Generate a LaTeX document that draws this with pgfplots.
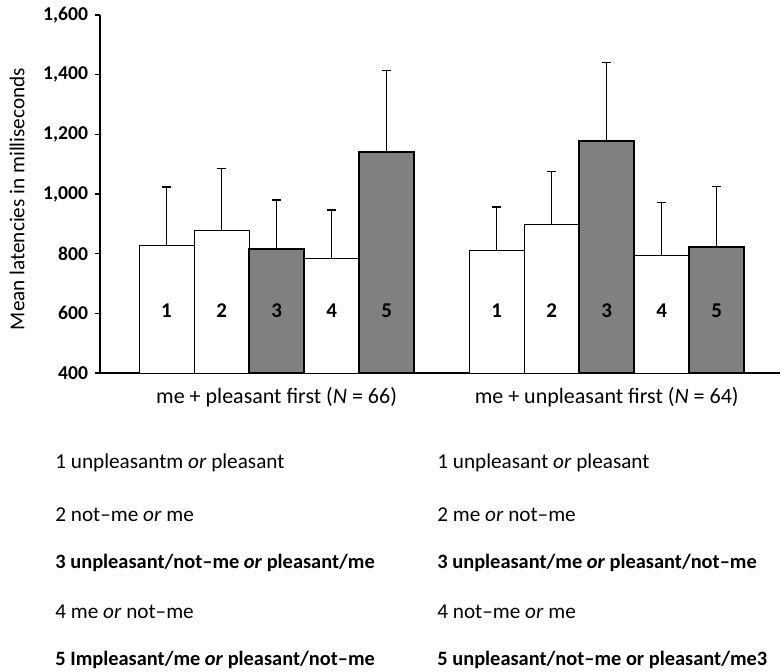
\documentclass[border=0pt]{standalone}
\usepackage{pgfplots}
\pgfplotsset{compat=1.18}
\usepackage{fontspec}
\setmainfont{Carlito}
\begin{document}
\begin{tikzpicture}
\path[use as bounding box] (0,0) rectangle (391pt,335.5pt);
\begin{axis}[
  at={(50pt,149pt)}, anchor=south west,
  scale only axis, width=340pt, height=179pt,
  xmin=-0.21, xmax=12.15, ymin=400, ymax=1600,
  axis x line*=bottom, axis y line*=left,
  axis line style={line width=0.7pt},
  ytick={400,600,...,1600},
  tick align=outside, major tick length=2.5pt,
  y tick style={line width=0.7pt, black},
  yticklabel style={font=\bfseries\fontsize{9.8}{11}\selectfont,
    /pgf/number format/.cd, 1000 sep={,}, assume math mode=true},
  xtick={3,9},
  xticklabels={me + pleasant first (\textit{N} = 66), me + unpleasant first (\textit{N} = 64)},
  x tick style={draw=none},
  xticklabel style={font=\fontsize{11}{13}\selectfont, yshift=-1pt},
  ylabel={Mean latencies in milliseconds},
  every axis y label/.style={at={(rel axis cs:0,0.486)}, xshift=-41.5pt, rotate=90, anchor=center,
    font=\fontsize{10.6}{12}\selectfont},
  error bars/error bar style={line width=0.7pt, black},
  error bars/error mark options={rotate=90, mark size=2.3pt, line width=0.7pt, black},
  clip=false,
]
\addplot+[ybar, bar width=1, bar shift=0pt, fill=white, draw=black, line width=0.5pt, mark=none,
  error bars/.cd, y dir=plus, y explicit]
  table[x=x, y=y, y error=e] {
x y e
1 827 196
2 876 210
4 785 161
7 811 145
8 899 177
10 793 178
};
\addplot+[ybar, bar width=1, bar shift=0pt, fill=black!50, draw=black, line width=1pt, mark=none,
  error bars/.cd, y dir=plus, y explicit]
  table[x=x, y=y, y error=e] {
x y e
3 817 163
5 1141 273
9 1179 261
11 824 202
};
\foreach \i/\lab in {1/1,2/2,4/4,7/1,8/2,10/4,3/3,5/5,9/3,11/5} {
  \edef\tmp{\noexpand\node[font=\noexpand\bfseries\noexpand\fontsize{10.5}{12}\noexpand\selectfont] at (axis cs:\i,610) {\lab};}\tmp
}
\end{axis}
\begin{scope}[every node/.style={anchor=west, inner sep=0pt, font=\fontsize{10.6}{12}\selectfont}]
\node at (27.5pt,104pt) {1 unpleasantm \textit{or} pleasant};
\node at (27.5pt,78pt) {2 not–me \textit{or} me};
\node at (27.5pt,54pt) {\fontsize{10.2}{12}\selectfont\textbf{3 unpleasant/not–me \textit{or} pleasant/me}};
\node at (27.5pt,29.5pt) {4 me \textit{or} not–me};
\node at (27.5pt,5.5pt) {\fontsize{10.2}{12}\selectfont\textbf{5 Impleasant/me \textit{or} pleasant/not–me}};
\node at (218.5pt,104pt) {1 unpleasant \textit{or} pleasant};
\node at (218.5pt,78pt) {2 me \textit{or} not–me};
\node at (218.5pt,54pt) {\fontsize{10.2}{12}\selectfont\textbf{3 unpleasant/me \textit{or} pleasant/not–me}};
\node at (218.5pt,29.5pt) {4 not–me \textit{or} me};
\node at (218.5pt,5.5pt) {\fontsize{10.2}{12}\selectfont\textbf{5 unpleasant/not–me or pleasant/me3}};
\end{scope}
\end{tikzpicture}
\end{document}
